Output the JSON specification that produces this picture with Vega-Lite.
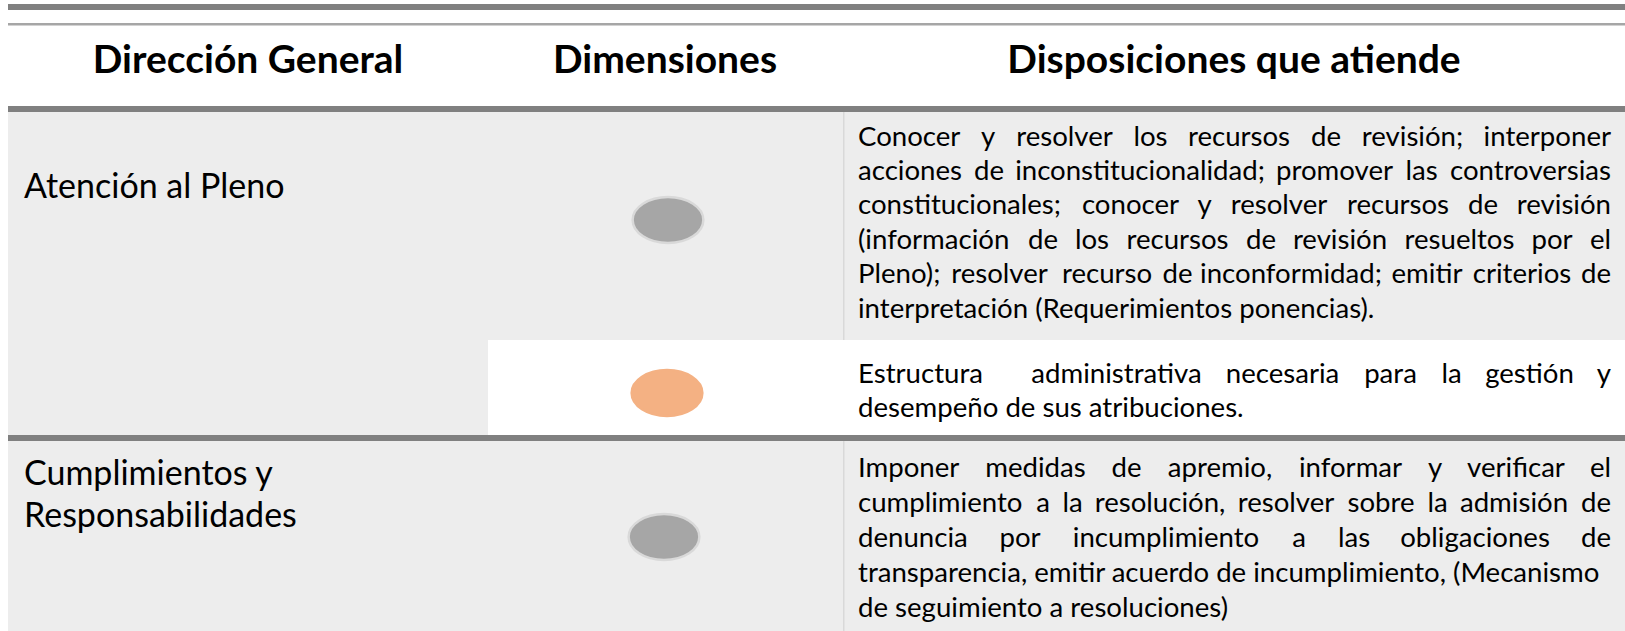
{
  "$schema": "https://vega.github.io/schema/vega-lite/v6.json",
  "width": 1625,
  "height": 631,
  "autosize": {"type": "fit", "contains": "padding"},
  "padding": 0,
  "background": "white",
  "config": {"view": {"stroke": null}},
  "datasets": {
    "celdas": [
      {"tipo": "barra", "x0": 8, "x1": 1625, "y0": 4, "y1": 10},
      {"tipo": "linea", "x0": 8, "x1": 1625, "y0": 23, "y1": 25.5},
      {"tipo": "fondo", "x0": 8, "x1": 1625, "y0": 112, "y1": 435},
      {"tipo": "blanco", "x0": 488, "x1": 1625, "y0": 340, "y1": 435},
      {"tipo": "fondo", "x0": 8, "x1": 1625, "y0": 441, "y1": 631},
      {"tipo": "divisor", "x0": 843, "x1": 844.5, "y0": 112, "y1": 340},
      {"tipo": "divisor", "x0": 843, "x1": 844.5, "y0": 441, "y1": 631},
      {"tipo": "barra", "x0": 8, "x1": 1625, "y0": 106, "y1": 112},
      {"tipo": "barra", "x0": 8, "x1": 1625, "y0": 435, "y1": 441}
    ],
    "encabezados": [
      {"texto": "Dirección General", "x": 248, "y": 73},
      {"texto": "Dimensiones", "x": 665, "y": 73},
      {"texto": "Disposiciones que atiende", "x": 1234, "y": 73}
    ],
    "direcciones": [
      {"texto": "Atención al Pleno", "x": 24, "y": 198},
      {"texto": "Cumplimientos y", "x": 24, "y": 485},
      {"texto": "Responsabilidades", "x": 24, "y": 527}
    ],
    "primeras": [
      {"linea": 1, "texto": "Conocer", "x": 858, "y": 146},
      {"linea": 2, "texto": "acciones", "x": 858, "y": 180},
      {"linea": 3, "texto": "constitucionales;", "x": 858, "y": 214},
      {"linea": 4, "texto": "(información", "x": 858, "y": 249},
      {"linea": 5, "texto": "Pleno);", "x": 858, "y": 283},
      {"linea": 6, "texto": "interpretación (Requerimientos ponencias).", "x": 858, "y": 318},
      {"linea": 7, "texto": "Estructura", "x": 858, "y": 383},
      {"linea": 8, "texto": "desempeño de sus atribuciones.", "x": 858, "y": 417},
      {"linea": 9, "texto": "Imponer", "x": 858, "y": 477},
      {"linea": 10, "texto": "cumplimiento", "x": 858, "y": 512},
      {"linea": 11, "texto": "denuncia", "x": 858, "y": 547},
      {"linea": 12, "texto": "transparencia, emitir acuerdo de incumplimiento,  (Mecanismo", "x": 858, "y": 582},
      {"linea": 13, "texto": "de seguimiento a resoluciones)", "x": 858, "y": 617}
    ],
    "intermedias": [
      {"linea": 1, "texto": "y", "x": 988, "y": 146},
      {"linea": 1, "texto": "resolver", "x": 1064.5, "y": 146},
      {"linea": 1, "texto": "los", "x": 1150.5, "y": 146},
      {"linea": 1, "texto": "recursos", "x": 1239, "y": 146},
      {"linea": 1, "texto": "de", "x": 1326, "y": 146},
      {"linea": 1, "texto": "revisión;", "x": 1412.5, "y": 146},
      {"linea": 2, "texto": "de", "x": 989, "y": 180},
      {"linea": 2, "texto": "inconstitucionalidad;", "x": 1140, "y": 180},
      {"linea": 2, "texto": "promover", "x": 1334.5, "y": 180},
      {"linea": 2, "texto": "las", "x": 1421.5, "y": 180},
      {"linea": 3, "texto": "conocer", "x": 1130.5, "y": 214},
      {"linea": 3, "texto": "y", "x": 1204.5, "y": 214},
      {"linea": 3, "texto": "resolver", "x": 1279, "y": 214},
      {"linea": 3, "texto": "recursos", "x": 1398, "y": 214},
      {"linea": 3, "texto": "de", "x": 1483, "y": 214},
      {"linea": 4, "texto": "de", "x": 1043, "y": 249},
      {"linea": 4, "texto": "los", "x": 1092, "y": 249},
      {"linea": 4, "texto": "recursos", "x": 1177.5, "y": 249},
      {"linea": 4, "texto": "de", "x": 1261, "y": 249},
      {"linea": 4, "texto": "revisión", "x": 1340, "y": 249},
      {"linea": 4, "texto": "resueltos", "x": 1459.5, "y": 249},
      {"linea": 4, "texto": "por", "x": 1552, "y": 249},
      {"linea": 5, "texto": "resolver", "x": 999.5, "y": 283},
      {"linea": 5, "texto": "recurso", "x": 1107, "y": 283},
      {"linea": 5, "texto": "de", "x": 1177.5, "y": 283},
      {"linea": 5, "texto": "inconformidad;", "x": 1291, "y": 283},
      {"linea": 5, "texto": "emitir", "x": 1427, "y": 283},
      {"linea": 5, "texto": "criterios", "x": 1522, "y": 283},
      {"linea": 7, "texto": "administrativa", "x": 1116.5, "y": 383},
      {"linea": 7, "texto": "necesaria", "x": 1282.5, "y": 383},
      {"linea": 7, "texto": "para", "x": 1390.5, "y": 383},
      {"linea": 7, "texto": "la", "x": 1451.5, "y": 383},
      {"linea": 7, "texto": "gestión", "x": 1529.5, "y": 383},
      {"linea": 9, "texto": "medidas", "x": 1035.5, "y": 477},
      {"linea": 9, "texto": "de", "x": 1126.5, "y": 477},
      {"linea": 9, "texto": "apremio,", "x": 1220, "y": 477},
      {"linea": 9, "texto": "informar", "x": 1350.5, "y": 477},
      {"linea": 9, "texto": "y", "x": 1435, "y": 477},
      {"linea": 9, "texto": "verificar", "x": 1516, "y": 477},
      {"linea": 10, "texto": "a", "x": 1043, "y": 512},
      {"linea": 10, "texto": "la", "x": 1072.5, "y": 512},
      {"linea": 10, "texto": "resolución,", "x": 1160, "y": 512},
      {"linea": 10, "texto": "resolver", "x": 1286, "y": 512},
      {"linea": 10, "texto": "sobre", "x": 1381, "y": 512},
      {"linea": 10, "texto": "la", "x": 1437.5, "y": 512},
      {"linea": 10, "texto": "admisión", "x": 1514, "y": 512},
      {"linea": 11, "texto": "por", "x": 1020, "y": 547},
      {"linea": 11, "texto": "incumplimiento", "x": 1166, "y": 547},
      {"linea": 11, "texto": "a", "x": 1299, "y": 547},
      {"linea": 11, "texto": "las", "x": 1354, "y": 547},
      {"linea": 11, "texto": "obligaciones", "x": 1475, "y": 547}
    ],
    "finales": [
      {"linea": 1, "texto": "interponer", "x": 1611, "y": 146},
      {"linea": 2, "texto": "controversias", "x": 1611, "y": 180},
      {"linea": 3, "texto": "revisión", "x": 1611, "y": 214},
      {"linea": 4, "texto": "el", "x": 1611, "y": 249},
      {"linea": 5, "texto": "de", "x": 1611, "y": 283},
      {"linea": 7, "texto": "y", "x": 1611, "y": 383},
      {"linea": 9, "texto": "el", "x": 1611, "y": 477},
      {"linea": 10, "texto": "de", "x": 1611, "y": 512},
      {"linea": 11, "texto": "de", "x": 1611, "y": 547}
    ],
    "dimensiones": [
      {"direccion": "Atención al Pleno", "estado": "gris", "x": 668, "y": 220},
      {"direccion": "Atención al Pleno", "estado": "naranja", "x": 667, "y": 393},
      {"direccion": "Cumplimientos y Responsabilidades", "estado": "gris", "x": 664, "y": 537}
    ]
  },
  "layer": [
    {
      "data": {"name": "celdas"},
      "mark": {"type": "rect"},
      "encoding": {
        "x": {"field": "x0", "type": "quantitative", "scale": {"domain": [0, 1625], "nice": false, "zero": false}, "axis": null},
        "x2": {"field": "x1"},
        "y": {"field": "y0", "type": "quantitative", "scale": {"domain": [0, 631], "nice": false, "zero": false, "reverse": true}, "axis": null},
        "y2": {"field": "y1"},
        "color": {"field": "tipo", "type": "nominal", "legend": null,
          "scale": {"domain": ["barra", "linea", "fondo", "blanco", "divisor"], "range": ["#808080", "#a6a6a6", "#ededed", "#ffffff", "#d9d9d9"]}}
      }
    },
    {
      "data": {"name": "dimensiones"},
      "mark": {"type": "point", "filled": true, "shape": "M-1,0A1,0.65,0,1,0,1,0A1,0.65,0,1,0,-1,0Z", "size": 5000, "strokeWidth": 2.5, "opacity": 1},
      "encoding": {
        "x": {"field": "x", "type": "quantitative"},
        "y": {"field": "y", "type": "quantitative"},
        "fill": {"field": "estado", "type": "nominal", "legend": null, "scale": {"domain": ["gris", "naranja"], "range": ["#a6a6a6", "#f4b183"]}},
        "stroke": {"field": "estado", "type": "nominal", "legend": null, "scale": {"domain": ["gris", "naranja"], "range": ["#d9d9d9", "#f4b183"]}}
      }
    },
    {
      "data": {"name": "encabezados"},
      "mark": {"type": "text", "align": "center", "baseline": "alphabetic", "font": "Lato", "fontSize": 39, "fontWeight": "bold", "color": "#000000"},
      "encoding": {
        "x": {"field": "x", "type": "quantitative"},
        "y": {"field": "y", "type": "quantitative"},
        "text": {"field": "texto"}
      }
    },
    {
      "data": {"name": "direcciones"},
      "mark": {"type": "text", "align": "left", "baseline": "alphabetic", "font": "Lato", "fontSize": 34, "color": "#000000"},
      "encoding": {
        "x": {"field": "x", "type": "quantitative"},
        "y": {"field": "y", "type": "quantitative"},
        "text": {"field": "texto"}
      }
    },
    {
      "data": {"name": "primeras"},
      "mark": {"type": "text", "align": "left", "baseline": "alphabetic", "font": "Lato", "fontSize": 27.6, "color": "#000000"},
      "encoding": {
        "x": {"field": "x", "type": "quantitative"},
        "y": {"field": "y", "type": "quantitative"},
        "text": {"field": "texto"}
      }
    },
    {
      "data": {"name": "intermedias"},
      "mark": {"type": "text", "align": "center", "baseline": "alphabetic", "font": "Lato", "fontSize": 27.6, "color": "#000000"},
      "encoding": {
        "x": {"field": "x", "type": "quantitative"},
        "y": {"field": "y", "type": "quantitative"},
        "text": {"field": "texto"}
      }
    },
    {
      "data": {"name": "finales"},
      "mark": {"type": "text", "align": "right", "baseline": "alphabetic", "font": "Lato", "fontSize": 27.6, "color": "#000000"},
      "encoding": {
        "x": {"field": "x", "type": "quantitative"},
        "y": {"field": "y", "type": "quantitative"},
        "text": {"field": "texto"}
      }
    }
  ]
}
